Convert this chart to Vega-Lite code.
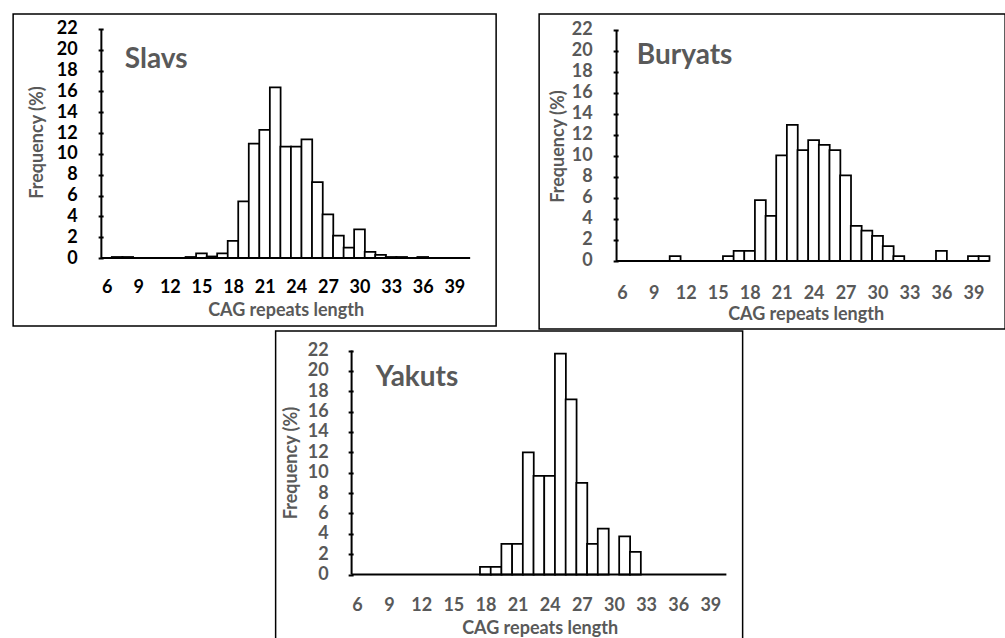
{
  "$schema": "https://vega.github.io/schema/vega-lite/v6.json",
  "background": "white",
  "padding": {"left": 12, "top": 13, "right": 0, "bottom": 0},
  "config": {
    "view": {"stroke": "black", "strokeWidth": 1.5},
    "font": "Lato"
  },
  "vconcat": [
    {
      "hconcat": [
        {
          "width": 483,
          "height": 312,
          "resolve": {"axis": {"x": "independent", "y": "independent"}},
          "layer": [
            {
              "data": {"values": [
                {"cag": 7, "freq": 0.1}, {"cag": 8, "freq": 0.1}, {"cag": 14, "freq": 0.1},
                {"cag": 15, "freq": 0.45}, {"cag": 16, "freq": 0.15}, {"cag": 17, "freq": 0.45},
                {"cag": 18, "freq": 1.65}, {"cag": 19, "freq": 5.45}, {"cag": 20, "freq": 11.0},
                {"cag": 21, "freq": 12.3}, {"cag": 22, "freq": 16.4}, {"cag": 23, "freq": 10.7},
                {"cag": 24, "freq": 10.7}, {"cag": 25, "freq": 11.4}, {"cag": 26, "freq": 7.3},
                {"cag": 27, "freq": 4.2}, {"cag": 28, "freq": 2.15}, {"cag": 29, "freq": 1.0},
                {"cag": 30, "freq": 2.75}, {"cag": 31, "freq": 0.6}, {"cag": 32, "freq": 0.3},
                {"cag": 33, "freq": 0.1}, {"cag": 34, "freq": 0.1}, {"cag": 36, "freq": 0.1}
              ]},
              "mark": {"type": "bar", "orient": "vertical", "width": 10.76, "fill": "white", "stroke": "black", "strokeWidth": 1.75},
              "encoding": {
                "x": {"field": "cag", "type": "quantitative",
                  "scale": {"domain": [-2.40, 42.49], "nice": false, "zero": false},
                  "axis": {"title": "CAG repeats length", "values": [6, 9, 12, 15, 18, 21, 24, 27, 30, 33, 36, 39],
                    "domain": false, "ticks": false, "grid": false, "offset": -68,
                    "labelFont": "Lato", "labelFontSize": 18, "labelFontWeight": "bold", "labelColor": "black",
                    "labelPadding": 20.5, "labelOverlap": false, "labelFlush": false,
                    "titleFont": "Lato", "titleFontSize": 18, "titleFontWeight": "bold", "titleColor": "#595959",
                    "titleX": 272.5, "titleY": 43.7, "titleBaseline": "top", "titleAlign": "center"}},
                "y": {"field": "freq", "type": "quantitative",
                  "scale": {"domain": [-6.53, 23.44], "nice": false, "zero": false},
                  "axis": {"title": "Frequency (%)", "values": [0, 2, 4, 6, 8, 10, 12, 14, 16, 18, 20, 22],
                    "domain": false, "grid": false, "offset": -85, "tickSize": -5, "tickWidth": 2, "tickColor": "black",
                    "labelFont": "Lato", "labelFontSize": 18, "labelFontWeight": "bold", "labelColor": "black",
                    "labelPadding": 26, "labelOverlap": false, "labelFlush": false,
                    "titleFont": "Lato", "titleFontSize": 18, "titleFontWeight": "bold", "titleColor": "#595959",
                    "titleX": -61, "titleY": 128, "titleBaseline": "middle", "titleAlign": "center"}},
                "y2": {"datum": 0}
              }
            },
            {
              "data": {"values": [{}]},
              "mark": {"type": "rule", "stroke": "black", "strokeWidth": 2},
              "encoding": {"x": {"datum": 5.5, "type": "quantitative", "axis": null}, "x2": {"datum": 40.5}, "y": {"datum": 0, "type": "quantitative", "axis": null}}
            },
            {
              "data": {"values": [{}]},
              "mark": {"type": "rule", "stroke": "black", "strokeWidth": 2},
              "encoding": {"x": {"datum": 5.5, "type": "quantitative", "axis": null}, "y": {"datum": 0, "type": "quantitative", "axis": null}, "y2": {"datum": 22}}
            },
            {
              "data": {"values": [{"label": "Slavs"}]},
              "mark": {"type": "text", "align": "left", "baseline": "alphabetic", "font": "Lato", "fontSize": 28, "fontWeight": "bold", "color": "#595959"},
              "encoding": {"x": {"datum": 7.73, "type": "quantitative", "axis": null}, "y": {"datum": 18.25, "type": "quantitative", "axis": null}, "text": {"field": "label"}}
            }
          ]
        },
        {
          "width": 466,
          "height": 315,
          "resolve": {"axis": {"x": "independent", "y": "independent"}},
          "layer": [
            {
              "data": {"values": [
                {"cag": 11, "freq": 0.45}, {"cag": 16, "freq": 0.45}, {"cag": 17, "freq": 0.95},
                {"cag": 18, "freq": 0.95}, {"cag": 19, "freq": 5.8}, {"cag": 20, "freq": 4.3},
                {"cag": 21, "freq": 10.05}, {"cag": 22, "freq": 12.95}, {"cag": 23, "freq": 10.55},
                {"cag": 24, "freq": 11.5}, {"cag": 25, "freq": 11.05}, {"cag": 26, "freq": 10.55},
                {"cag": 27, "freq": 8.15}, {"cag": 28, "freq": 3.33}, {"cag": 29, "freq": 2.88},
                {"cag": 30, "freq": 2.38}, {"cag": 31, "freq": 1.42}, {"cag": 32, "freq": 0.45},
                {"cag": 36, "freq": 0.95}, {"cag": 39, "freq": 0.45}, {"cag": 40, "freq": 0.45}
              ]},
              "mark": {"type": "bar", "orient": "vertical", "width": 10.886, "fill": "white", "stroke": "black", "strokeWidth": 1.75},
              "encoding": {
                "x": {"field": "cag", "type": "quantitative",
                  "scale": {"domain": [-1.30, 41.51], "nice": false, "zero": false},
                  "axis": {"title": "CAG repeats length", "values": [6, 9, 12, 15, 18, 21, 24, 27, 30, 33, 36, 39],
                    "domain": false, "ticks": false, "grid": false, "offset": -68,
                    "labelFont": "Lato", "labelFontSize": 18, "labelFontWeight": "bold", "labelColor": "#595959",
                    "labelPadding": 23, "labelOverlap": false, "labelFlush": false,
                    "titleFont": "Lato", "titleFontSize": 18, "titleFontWeight": "bold", "titleColor": "#595959",
                    "titleX": 266.5, "titleY": 44.2, "titleBaseline": "top", "titleAlign": "center"}},
                "y": {"field": "freq", "type": "quantitative",
                  "scale": {"domain": [-6.48, 23.52], "nice": false, "zero": false},
                  "axis": {"title": "Frequency (%)", "values": [0, 2, 4, 6, 8, 10, 12, 14, 16, 18, 20, 22],
                    "domain": false, "grid": false, "offset": -74, "tickSize": -5, "tickWidth": 2, "tickColor": "black",
                    "labelFont": "Lato", "labelFontSize": 18, "labelFontWeight": "bold", "labelColor": "#595959",
                    "labelPadding": 26, "labelOverlap": false, "labelFlush": false,
                    "titleFont": "Lato", "titleFontSize": 18, "titleFontWeight": "bold", "titleColor": "#595959",
                    "titleX": -54.4, "titleY": 132, "titleBaseline": "middle", "titleAlign": "center"}},
                "y2": {"datum": 0}
              }
            },
            {
              "data": {"values": [{}]},
              "mark": {"type": "rule", "stroke": "black", "strokeWidth": 2},
              "encoding": {"x": {"datum": 5.5, "type": "quantitative", "axis": null}, "x2": {"datum": 40.5}, "y": {"datum": 0, "type": "quantitative", "axis": null}}
            },
            {
              "data": {"values": [{}]},
              "mark": {"type": "rule", "stroke": "black", "strokeWidth": 2},
              "encoding": {"x": {"datum": 5.5, "type": "quantitative", "axis": null}, "y": {"datum": 0, "type": "quantitative", "axis": null}, "y2": {"datum": 22}}
            },
            {
              "data": {"values": [{"label": "Buryats"}]},
              "mark": {"type": "text", "align": "left", "baseline": "alphabetic", "font": "Lato", "fontSize": 28, "fontWeight": "bold", "color": "#595959"},
              "encoding": {"x": {"datum": 7.4, "type": "quantitative", "axis": null}, "y": {"datum": 18.79, "type": "quantitative", "axis": null}, "text": {"field": "label"}}
            }
          ]
        }
      ],
      "spacing": 41
    },
    {
      "width": 467,
      "height": 310,
      "resolve": {"axis": {"x": "independent", "y": "independent"}},
      "layer": [
        {
          "data": {"values": [
            {"cag": 18, "freq": 0.75}, {"cag": 19, "freq": 0.75}, {"cag": 20, "freq": 3.0},
            {"cag": 21, "freq": 3.0}, {"cag": 22, "freq": 12.0}, {"cag": 23, "freq": 9.7},
            {"cag": 24, "freq": 9.7}, {"cag": 25, "freq": 21.7}, {"cag": 26, "freq": 17.2},
            {"cag": 27, "freq": 9.0}, {"cag": 28, "freq": 3.0}, {"cag": 29, "freq": 4.5},
            {"cag": 31, "freq": 3.74}, {"cag": 32, "freq": 2.23}
          ]},
          "mark": {"type": "bar", "orient": "vertical", "width": 10.94, "fill": "white", "stroke": "black", "strokeWidth": 1.75},
          "encoding": {
            "x": {"field": "cag", "type": "quantitative",
              "scale": {"domain": [-1.127, 41.55], "nice": false, "zero": false},
              "axis": {"title": "CAG repeats length", "values": [6, 9, 12, 15, 18, 21, 24, 27, 30, 33, 36, 39],
                "domain": false, "ticks": false, "grid": false, "offset": -66.5,
                "labelFont": "Lato", "labelFontSize": 18, "labelFontWeight": "bold", "labelColor": "#595959",
                "labelPadding": 22, "labelOverlap": false, "labelFlush": false,
                "titleFont": "Lato", "titleFontSize": 18, "titleFontWeight": "bold", "titleColor": "#595959",
                "titleX": 264, "titleY": 45, "titleBaseline": "top", "titleAlign": "center"}},
            "y": {"field": "freq", "type": "quantitative",
              "scale": {"domain": [-6.53, 23.92], "nice": false, "zero": false},
              "axis": {"title": "Frequency (%)", "values": [0, 2, 4, 6, 8, 10, 12, 14, 16, 18, 20, 22],
                "domain": false, "grid": false, "offset": -72.5, "tickSize": -5, "tickWidth": 2, "tickColor": "black",
                "labelFont": "Lato", "labelFontSize": 18, "labelFontWeight": "bold", "labelColor": "#595959",
                "labelPadding": 25, "labelOverlap": false, "labelFlush": false,
                "titleFont": "Lato", "titleFontSize": 18, "titleFontWeight": "bold", "titleColor": "#595959",
                "titleX": -57, "titleY": 131.5, "titleBaseline": "middle", "titleAlign": "center"}},
            "y2": {"datum": 0}
          }
        },
        {
          "data": {"values": [{}]},
          "mark": {"type": "rule", "stroke": "black", "strokeWidth": 2},
          "encoding": {"x": {"datum": 5.5, "type": "quantitative", "axis": null}, "x2": {"datum": 40.5}, "y": {"datum": 0, "type": "quantitative", "axis": null}}
        },
        {
          "data": {"values": [{}]},
          "mark": {"type": "rule", "stroke": "black", "strokeWidth": 2},
          "encoding": {"x": {"datum": 5.5, "type": "quantitative", "axis": null}, "y": {"datum": 0, "type": "quantitative", "axis": null}, "y2": {"datum": 22}}
        },
        {
          "data": {"values": [{"label": "Yakuts"}]},
          "mark": {"type": "text", "align": "left", "baseline": "alphabetic", "font": "Lato", "fontSize": 28, "fontWeight": "bold", "color": "#595959"},
          "encoding": {"x": {"datum": 7.75, "type": "quantitative", "axis": null}, "y": {"datum": 18.47, "type": "quantitative", "axis": null}, "text": {"field": "label"}}
        }
      ]
    }
  ],
  "center": true,
  "spacing": 0
}
